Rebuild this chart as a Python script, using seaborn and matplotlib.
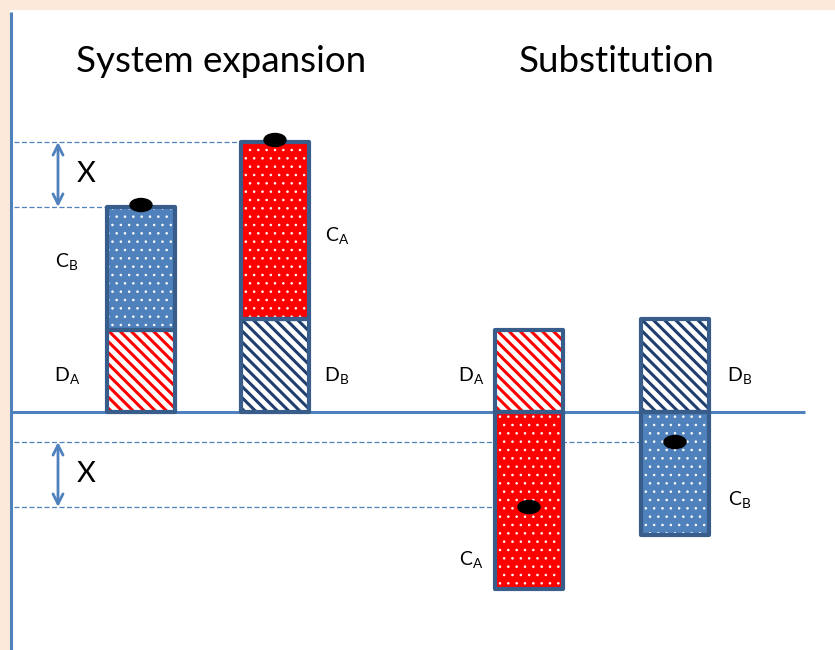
import matplotlib
matplotlib.use("Agg")
import matplotlib.pyplot as plt
import seaborn as sns
from matplotlib.patches import Rectangle, Ellipse

# burdens of the two products (arbitrary units)
# D = direct burden, C = credit / avoided burden
d_a = 82
d_b = 93
c_a = 177
c_b = 123

approaches = ["System expansion", "Substitution"]

# bar contents: list of (segment, value, sign) stacked from the axis
system_bars = [[("D_A", d_a, 1), ("C_B", c_b, 1)],
               [("D_B", d_b, 1), ("C_A", c_a, 1)]]
subst_bars = [[("D_A", d_a, 1), ("C_A", c_a, -1)],
              [("D_B", d_b, 1), ("C_B", c_b, -1)]]

# layout (pixel-like units, y=0 is the horizontal axis)
bar_x = [141, 275, 529, 675]
bar_w = 68
label_dx = [-40, 28, -24, 31]
title_x = [221, 617]
d_label_y = 36
c_label_y = [151, 177, -148, -88]

BLUE = "#4F81BD"
EDGE = "#385D8A"
RED = "#FF0000"
NAVY = "#1F3D6E"

seg_style = {
    "D_A": dict(face="white", hatch="\\\\\\", hcol=RED, hlw=2.2),
    "D_B": dict(face="white", hatch="\\\\\\", hcol=NAVY, hlw=2.2),
    "C_A": dict(face=RED, hatch="..", hcol="white", hlw=0.6),
    "C_B": dict(face=BLUE, hatch="..", hcol="white", hlw=0.6),
}
seg_text = {"D_A": r"$\mathregular{D_A}$", "D_B": r"$\mathregular{D_B}$",
            "C_A": r"$\mathregular{C_A}$", "C_B": r"$\mathregular{C_B}$"}

sns.set_theme(style="white")
plt.rcParams["font.family"] = ["Lato", "DejaVu Sans"]

fig = plt.figure(figsize=(8.35, 6.5), dpi=100, facecolor="#FDE9D9")
ax = fig.add_axes([0, 0, 1, 1])
ax.set_xlim(0, 835)
ax.set_ylim(-238, 412)
ax.axis("off")

ax.add_patch(Rectangle((10, -238), 825, 640, facecolor="white", edgecolor="none", zorder=0))
ax.plot([11, 11], [-238, 400], color=BLUE, lw=2.2, zorder=1, solid_capstyle="butt")
ax.plot([11, 805], [0, 0], color=BLUE, lw=2.2, zorder=1, solid_capstyle="butt")


def draw_segment(x, bottom, height, name):
    st = seg_style[name]
    with plt.rc_context({"hatch.linewidth": st["hlw"]}):
        bars = ax.bar(x, height, width=bar_w, bottom=bottom, color=st["face"],
                      edgecolor=st["hcol"], hatch=st["hatch"], linewidth=0, zorder=2)
    for b in bars:
        if hasattr(b, "set_hatch_linewidth"):
            b.set_hatch_linewidth(st["hlw"])
    ax.bar(x, height, width=bar_w, bottom=bottom, fill=False, edgecolor=EDGE,
           linewidth=3, zorder=3, joinstyle="round")


all_bars = system_bars + subst_bars
nets = []
for i, segs in enumerate(all_bars):
    x = bar_x[i]
    up = 0
    net = 0
    edge = x + (bar_w / 2 if label_dx[i] > 0 else -bar_w / 2)
    for name, val, sign in segs:
        if sign > 0:
            draw_segment(x, up, val, name)
            up += val
        else:
            draw_segment(x, 0, -val, name)
        net += sign * val
        ly = d_label_y if name.startswith("D") else c_label_y[i]
        ax.text(edge + label_dx[i], ly, seg_text[name], ha="center", va="center",
                fontsize=14, color="black")
    nets.append(net)
    ax.add_patch(Ellipse((x, net + 2 if i < 2 else net), 22, 13, color="black", zorder=4))

# difference X between the two options, drawn for each approach
pairs = [(0, 1), (3, 2)]
for lo, hi in pairs:
    y_lo, y_hi = nets[lo], nets[hi]
    for k in (lo, hi):
        ax.hlines(nets[k], 14, bar_x[k] - bar_w / 2, colors=BLUE, lw=0.9,
                  linestyles=(0, (4, 2)), zorder=1)
    ax.annotate("", xy=(58, y_hi), xytext=(58, y_lo),
                arrowprops=dict(arrowstyle="<->", color=BLUE, lw=2, mutation_scale=18,
                                shrinkA=0, shrinkB=0))
    ax.text(77, (y_lo + y_hi) / 2, "X", ha="left", va="center", fontsize=21, color="black")

for t, x in zip(approaches, title_x):
    ax.text(x, 351, t, ha="center", va="center", fontsize=26.5, color="black")

fig.savefig("out.png", dpi=100, facecolor=fig.get_facecolor())
